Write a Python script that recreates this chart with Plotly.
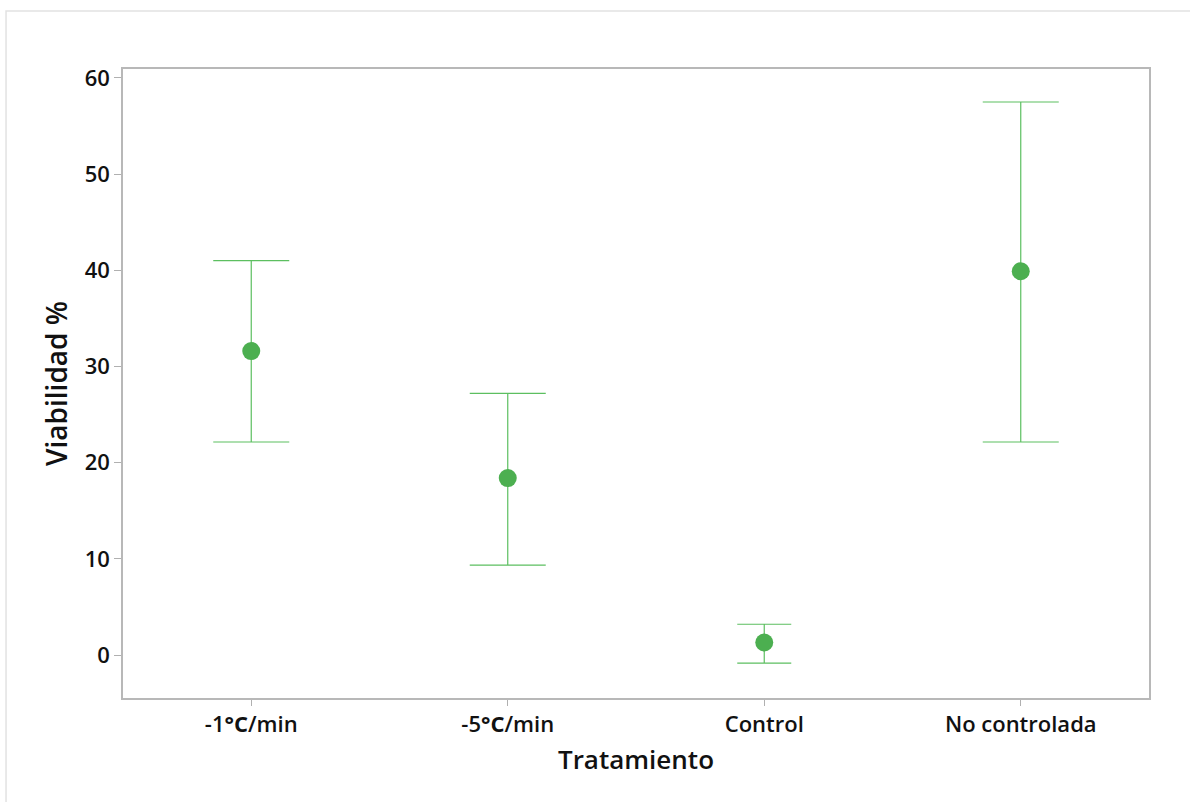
import plotly.graph_objects as go

categories = ["-1°C/min", "-5°C/min", "Control", "No controlada"]
tick_labels = ["-1<b>°C</b>/min", "-5<b>°C</b>/min", "Control", "No controlada"]
means = [31.6, 18.4, 1.3, 39.9]
upper = [41.0, 27.2, 3.2, 57.5]
lower = [22.15, 9.35, -0.85, 22.15]
cap_half_width = [38, 38, 27, 38]

green_line = "#5cbf60"
green_marker = "#4caf50"
font_family = "Open Sans"

fig = go.Figure()
for i, c in enumerate(categories):
    fig.add_trace(go.Scatter(
        x=[c], y=[means[i]], mode="markers",
        marker=dict(size=18, color=green_marker),
        error_y=dict(type="data", symmetric=False,
                     array=[upper[i] - means[i]], arrayminus=[means[i] - lower[i]],
                     color=green_line, thickness=1.2, width=cap_half_width[i]),
        showlegend=False, hoverinfo="skip"))

fig.add_shape(type="rect", xref="paper", yref="paper",
              x0=-0.114, x1=1.2, y0=-0.3, y1=1.0922,
              line=dict(color="#e2e2e2", width=1.5), fillcolor="rgba(0,0,0,0)", layer="below")

fig.update_layout(
    width=1190, height=802,
    margin=dict(l=123, r=41, t=69, b=104),
    paper_bgcolor="white", plot_bgcolor="white",
    font=dict(family=font_family, color="#111111"),
    xaxis=dict(
        type="category", categoryorder="array", categoryarray=categories,
        tickmode="array", tickvals=categories, ticktext=tick_labels,
        range=[-0.5, 3.5], showgrid=False, zeroline=False,
        showline=True, linecolor="#b8b8b8", linewidth=1.5, mirror=True,
        ticks="outside", ticklen=6, tickcolor="#b0b0b0",
        tickfont=dict(size=22, family=font_family, weight=600),
        title=dict(text="Tratamiento", font=dict(size=26, family=font_family, weight=600), standoff=14),
    ),
    yaxis=dict(
        range=[-4.47, 60.93], tickvals=[0, 10, 20, 30, 40, 50, 60],
        showgrid=False, zeroline=False,
        showline=True, linecolor="#b8b8b8", linewidth=1.5, mirror=True,
        ticks="outside", ticklen=7, tickcolor="#b0b0b0",
        tickfont=dict(size=22, family=font_family, weight=600),
        title=dict(text="Viabilidad %", font=dict(size=28, family=font_family, weight=600), standoff=9),
    ),
)

fig.write_html("out.html", config={"displayModeBar": False},
               post_script="document.body.style.margin='0px';")
